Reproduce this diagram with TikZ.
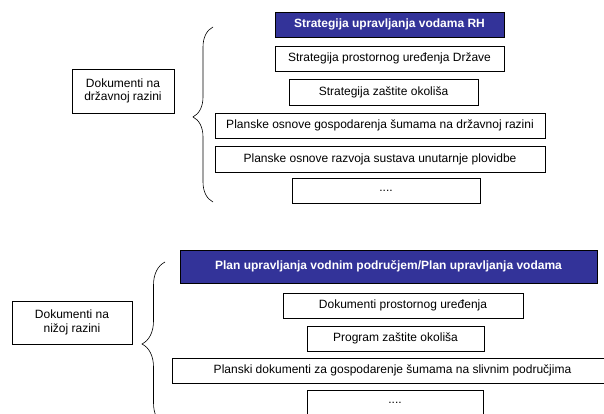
\documentclass[tikz,border=0pt]{standalone}
\usepackage{fontspec}
\setmainfont{Liberation Sans}
\usetikzlibrary{decorations.pathreplacing}
\definecolor{planblue}{HTML}{333399}
\tikzset{
  doc/.style={draw=black, line width=0.8pt, fill=white, inner sep=0pt, minimum height=25pt, font=\fontsize{12}{13.5}\selectfont},
  mainplan/.style={doc, fill=planblue, text=white, font=\fontsize{12}{13.5}\selectfont\bfseries},
  level/.style={doc, align=center, font=\fontsize{12}{13.5}\selectfont},
  curly/.style={decorate, decoration={brace, amplitude=#1}, line width=0.6pt}
}

\begin{document}
\begin{tikzpicture}[x=1pt,y=-1pt]
  \clip (0,0) rectangle (604,414);
  % drzavna razina
  \node (drz) at (123,91)[level, minimum width=102pt, minimum height=44pt]{Dokumenti na\\državnoj razini};
         \node (s1) at (389.5,24.5)[mainplan, minimum width=229pt]{Strategija upravljanja vodama RH};
         \node (s2) at (389.5,58.5)[doc, minimum width=229pt]{Strategija prostornog uređenja Države};
         \node (s3) at (383.5,92)[doc, minimum width=189pt, minimum height=26pt]{Strategija zaštite okoliša};
         \node (s4) at (380,125.5)[doc, minimum width=330pt]{Planske osnove gospodarenja šumama na državnoj razini};
         \node (s5) at (380,159)[doc, minimum width=330pt, minimum height=26pt]{Planske osnove razvoja sustava unutarnje plovidbe};
         \node (s6) at (386,190.5)[doc, minimum width=188pt]{....};
         \coordinate (b1top) at (213,27);
         \coordinate (b1bot) at (213,202);
         \draw [curly=20, decoration={aspect=0.486}] (b1bot) -- (b1top);
  % niza razina
  \node (niz) at (72,322.5)[level, minimum width=120pt, minimum height=43pt]{Dokumenti na\\nižoj razini};
         \node (p1) at (388.5,266.5)[mainplan, minimum width=417pt, minimum height=33pt]{Plan upravljanja vodnim područjem/Plan upravljanja vodama};
         \node (p2) at (403,305.5)[doc, minimum width=240pt]{Dokumenti prostornog uređenja};
         \node (p3) at (395.5,338.5)[doc, minimum width=177pt]{Program zaštite okoliša};
         \node (p4) at (392.5,370.5)[doc, minimum width=441pt]{Planski dokumenti za gospodarenje šumama na slivnim područjima};
         \node (p5) at (395,402.5)[doc, minimum width=176pt]{....};
         \coordinate (b2top) at (165,262);
         \coordinate (b2bot) at (165,426);
         \draw [curly=23] (b2bot) -- (b2top);
\end{tikzpicture}
\end{document}
